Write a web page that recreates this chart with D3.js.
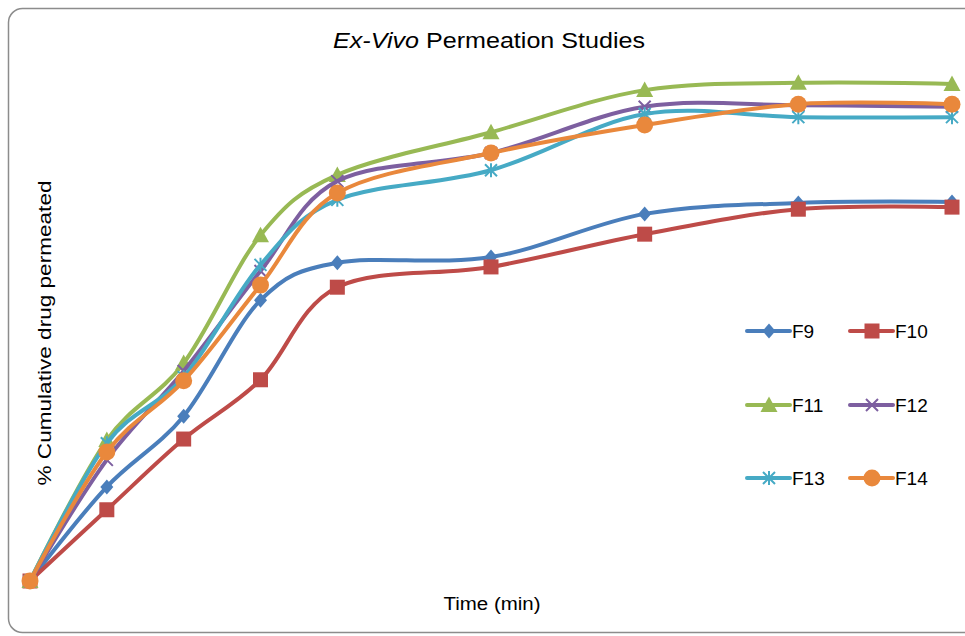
<!DOCTYPE html>
<html>
<head>
<meta charset="utf-8">
<script src="https://cdn.jsdelivr.net/npm/d3@7"></script>
<style>
  body { margin: 0; background: #fff; }
  svg { display: block; font-family: "Liberation Sans", Arial, sans-serif; }
</style>
</head>
<body>
<div id="chart"></div>
<script>
(function(d3) {
  'use strict';

  // time points (min)
  var times = [0, 15, 30, 45, 60, 90, 120, 150, 180];

  // % cumulative drug permeated
  var f9  = [0, 18.1, 31.7, 54.0, 61.2, 62.3, 70.6, 72.7, 72.9];
  var f10 = [0, 13.7, 27.3, 38.7, 56.5, 60.4, 66.7, 71.5, 71.9];
  var f11 = [0, 27.1, 41.9, 66.5, 78.1, 86.3, 94.4, 95.8, 95.6];
  var f12 = [0, 23.3, 40.4, 59.6, 76.9, 82.3, 91.2, 91.5, 91.2];
  var f13 = [0, 26.5, 39.2, 60.8, 73.3, 79.0, 89.8, 89.2, 89.2];
  var f14 = [0, 24.8, 38.5, 56.9, 74.6, 82.3, 87.7, 91.7, 91.7];

  var names = ['F9', 'F10', 'F11', 'F12', 'F13', 'F14'];
  var values = [f9, f10, f11, f12, f13, f14];
  var colors = ['#4a7ebb', '#be4b48', '#98b954', '#7d5fa0', '#46aac5', '#e9883c'];
  var shapes = ['diamond', 'square', 'triangle', 'cross', 'star', 'circle'];

  var width = 965;
  var height = 636;

  var svg = d3.select('#chart')
    .append('svg')
    .attr('width', width)
    .attr('height', height);

  // chart frame
  svg.append('rect')
    .attr('x', 8.5).attr('y', 8.5)
    .attr('width', 975).attr('height', 624)
    .attr('rx', 14).attr('ry', 14)
    .attr('fill', '#fff')
    .attr('stroke', '#8c8c8c')
    .attr('stroke-width', 1.5);

  var x = d3.scaleLinear().domain([0, 180]).range([30, 952]);
  var y = d3.scaleLinear().domain([0, 100]).range([581, 61]);

  var line = d3.line()
    .x(function(d, i) { return x(times[i]); })
    .y(function(d) { return y(d); })
    .curve(d3.curveCardinal.tension(0));

  function marker(g, shape, color) {
    if (shape === 'diamond') {
      g.append('path').attr('d', 'M0,-7.5L6.5,0L0,7.5L-6.5,0Z').attr('fill', color);
    } else if (shape === 'square') {
      g.append('rect').attr('x', -7.5).attr('y', -7.5).attr('width', 15).attr('height', 15).attr('fill', color);
    } else if (shape === 'triangle') {
      g.append('path').attr('d', 'M0,-8.5L8.5,7L-8.5,7Z').attr('fill', color);
    } else if (shape === 'cross') {
      g.append('path').attr('d', 'M-6,-6L6,6M-6,6L6,-6')
        .attr('stroke', color).attr('stroke-width', 2).attr('fill', 'none');
    } else if (shape === 'star') {
      g.append('path').attr('d', 'M-6,-6L6,6M-6,6L6,-6M0,-7L0,7')
        .attr('stroke', color).attr('stroke-width', 2).attr('fill', 'none');
    } else {
      g.append('circle').attr('r', 8.5).attr('fill', color);
    }
  }

  values.forEach(function(vals, k) {
    svg.append('path')
      .attr('d', line(vals))
      .attr('fill', 'none')
      .attr('stroke', colors[k])
      .attr('stroke-width', 4)
      .attr('stroke-linejoin', 'round');

    svg.append('g').selectAll('g')
      .data(vals)
      .enter()
      .append('g')
      .attr('transform', function(d, i) {
        return 'translate(' + x(times[i]) + ',' + y(d) + ')';
      })
      .each(function() { marker(d3.select(this), shapes[k], colors[k]); });
  });

  // title
  var title = svg.append('text')
    .attr('x', 489).attr('y', 48)
    .attr('text-anchor', 'middle')
    .attr('font-size', 22)
    .attr('textLength', 312)
    .attr('lengthAdjust', 'spacingAndGlyphs')
    .attr('fill', '#000');
  title.append('tspan').attr('font-style', 'italic').text('Ex-Vivo');
  title.append('tspan').text(' Permeation Studies');

  svg.append('text')
    .attr('transform', 'translate(51,333) rotate(-90)')
    .attr('text-anchor', 'middle')
    .attr('font-size', 18)
    .attr('textLength', 305)
    .attr('lengthAdjust', 'spacingAndGlyphs')
    .text('% Cumulative drug permeated');

  svg.append('text')
    .attr('x', 492).attr('y', 610)
    .attr('text-anchor', 'middle')
    .attr('font-size', 18)
    .attr('textLength', 97)
    .attr('lengthAdjust', 'spacingAndGlyphs')
    .text('Time (min)');

  // legend
  var legX = [747, 850];
  var legY = [331, 405, 478];
  names.forEach(function(n, k) {
    var lx = legX[k % 2];
    var ly = legY[Math.floor(k / 2)];
    var g = svg.append('g');
    g.append('line')
      .attr('x1', lx).attr('x2', lx + 43)
      .attr('y1', ly).attr('y2', ly)
      .attr('stroke', colors[k])
      .attr('stroke-width', 4)
      .attr('stroke-linecap', 'round');
    marker(g.append('g').attr('transform', 'translate(' + (lx + 22) + ',' + ly + ')'), shapes[k], colors[k]);
    g.append('text')
      .attr('x', lx + 45).attr('y', ly + 7)
      .attr('font-size', 19)
      .text(n);
  });
})(window.d3);
</script>
</body>
</html>
